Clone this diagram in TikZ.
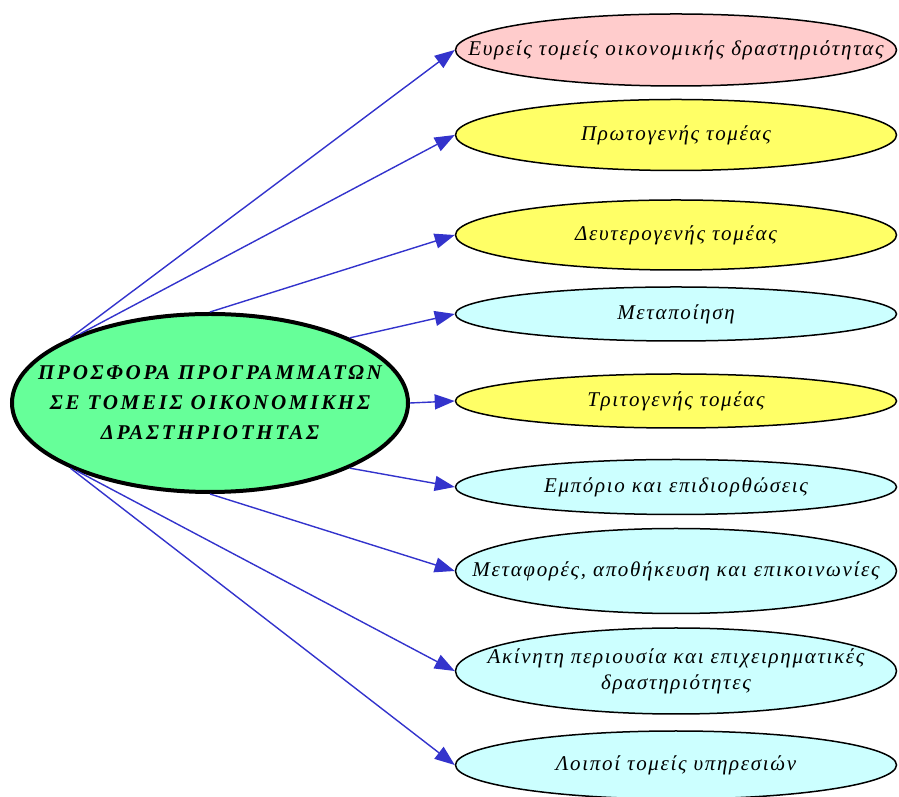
\documentclass[tikz,border=0pt]{standalone}
\usepackage{fontspec}
\setmainfont{Liberation Serif}
\newfontfamily\sectorfont{Liberation Serif}[LetterSpace=8]
\newfontfamily\titlefont{Liberation Serif}[LetterSpace=13]
\usetikzlibrary{shapes.geometric,arrows.meta}
\definecolor{linkblue}{HTML}{3333CC}
\definecolor{hubgreen}{HTML}{66FF99}
\definecolor{widepink}{HTML}{FFCCCC}
\definecolor{mainyellow}{HTML}{FFFF66}
\definecolor{subcyan}{HTML}{CCFFFF}
\tikzset{
  sector/.style={draw, ellipse, line width=1.5pt, inner sep=0pt, minimum width=441pt},
  sectortext/.style={inner sep=0pt, align=center,
    font=\sectorfont\itshape\fontsize{21}{26}\selectfont},
  hub/.style={draw, ellipse, line width=4pt, fill=hubgreen, inner sep=0pt,
    minimum width=396pt, minimum height=178pt},
  hubtext/.style={inner sep=0pt, align=center,
    font=\titlefont\bfseries\itshape\fontsize{21}{30}\selectfont},
  link/.style={draw=linkblue, line width=1.4pt, -{Triangle[length=20pt,width=15pt]}}
}
\begin{document}
\begin{tikzpicture}[x=1pt,y=1pt]
\useasboundingbox (0,0) rectangle (899,797);

% central node
  \node[hub, label={[hubtext]center:ΠΡΟΣΦΟΡΑ ΠΡΟΓΡΑΜΜΑΤΩΝ\\ΣΕ ΤΟΜΕΙΣ ΟΙΚΟΝΟΜΙΚΗΣ\\ΔΡΑΣΤΗΡΙΟΤΗΤΑΣ}] (offer) at (210,394) {};

% sectors
  \node[sector, fill=widepink, minimum height=72pt,
    label={[sectortext]center:Ευρείς τομείς οικονομικής δραστηριότητας}] (wide) at (676,747) {};
  \node[sector, fill=mainyellow, minimum height=71pt,
    label={[sectortext]center:Πρωτογενής τομέας}] (primary) at (676,662) {};
  \node[sector, fill=mainyellow, minimum height=70pt,
    label={[sectortext]center:Δευτερογενής τομέας}] (secondary) at (676,562) {};
  \node[sector, fill=subcyan, minimum height=54pt,
    label={[sectortext]center:Μεταποίηση}] (manufact) at (676,483) {};
  \node[sector, fill=mainyellow, minimum height=54pt,
    label={[sectortext]center:Τριτογενής τομέας}] (tertiary) at (676,396) {};
  \node[sector, fill=subcyan, minimum height=55pt,
    label={[sectortext]center:Εμπόριο και επιδιορθώσεις}] (trade) at (676,310) {};
  \node[sector, fill=subcyan, minimum height=85pt,
    label={[sectortext]center:Μεταφορές, αποθήκευση και επικοινωνίες}] (transport) at (676,226) {};
  \node[sector, fill=subcyan, minimum height=86pt,
    label={[sectortext]center:Ακίνητη περιουσία και επιχειρηματικές\\δραστηριότητες}] (estate) at (676,126) {};
  \node[sector, fill=subcyan, minimum height=68pt,
    label={[sectortext]center:Λοιποί τομείς υπηρεσιών}] (services) at (676,32) {};

% links
  \foreach \ang/\target in {155/wide, 152/primary, 90/secondary, 25/manufact, 0/tertiary,
    -25/trade, -90/transport, -153/estate, -155/services} {
    \draw[link] (offer.\ang) -- (\target.west);
  }
\end{tikzpicture}
\end{document}
